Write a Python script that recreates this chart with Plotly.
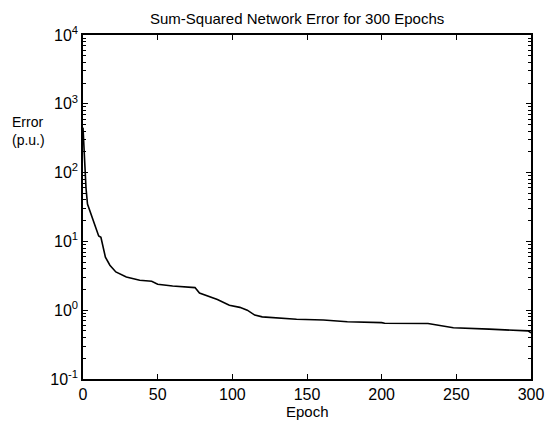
import plotly.graph_objects as go

# values (epoch, sum-squared error)
epochs = [0, 1, 2, 3, 5, 7, 9, 10.5, 12, 13, 15, 18, 22, 29, 38, 46, 48, 50,
          60, 75, 78, 84, 90, 98, 105, 110, 115, 120, 143, 161, 177, 200,
          202, 231, 240, 248, 272, 293, 298, 300]
errors = [450, 150, 60, 35, 26, 20, 14, 12, 11.5, 9, 5.9, 4.5, 3.6, 3.04,
          2.72, 2.63, 2.5, 2.38, 2.25, 2.13, 1.78, 1.6, 1.43, 1.18, 1.1, 1.0,
          0.85, 0.8, 0.74, 0.72, 0.68, 0.66, 0.645, 0.64, 0.6, 0.555, 0.53,
          0.51, 0.5, 0.47]
x_ticks = [0, 50, 100, 150, 200, 250, 300]
y_ticks = [0.1, 1, 10, 100, 1000, 10000]
y_labels = ["10<sup>-1</sup>", "10<sup>0</sup>", "10<sup>1</sup>",
            "10<sup>2</sup>", "10<sup>3</sup>", "10<sup>4</sup>"]
minor_ticks = [m * 10 ** e for e in range(-1, 4) for m in range(2, 10)]

FONT = "Liberation Sans, Arial, sans-serif"

fig = go.Figure()
fig.add_trace(go.Scatter(x=epochs, y=errors, mode="lines",
                         line=dict(color="black", width=1.6),
                         showlegend=False))

# figure fills the whole window (body margin removed in post_script)
W, H = 545, 421
L, R, T, B = 83, 14, 35, 42
pw, ph = W - L - R, H - T - B

fig.update_layout(
    width=W, height=H,
    margin=dict(l=L, r=R, t=T, b=B, autoexpand=False),
    paper_bgcolor="white", plot_bgcolor="white",
    font=dict(family=FONT, size=14, color="black"),
    annotations=[
        dict(text="Sum-Squared Network Error for 300 Epochs",
             xref="paper", yref="paper", x=(297 - L) / pw, y=1,
             yshift=17, showarrow=False, xanchor="center", yanchor="middle",
             font=dict(size=15)),
        dict(text="Error<br>(p.u.)", xref="paper", yref="paper",
             x=-(L - 10) / pw, y=1 - 96 / ph,
             showarrow=False, xanchor="left", yanchor="middle", align="left",
             font=dict(size=14)),
        dict(text="Epoch", xref="paper", yref="paper", x=0.5, y=0,
             yshift=-32, showarrow=False, xanchor="center",
             yanchor="middle", font=dict(size=15)),
    ],
)
fig.update_xaxes(
    range=[0, 300], tickvals=x_ticks, ticks="inside", ticklen=5,
    tickcolor="black", showline=True, linecolor="black", linewidth=1.5,
    mirror="ticks", showgrid=False, zeroline=False, automargin=False,
    tickfont=dict(size=16),
)
fig.update_yaxes(
    type="log", range=[-1, 4], tickvals=y_ticks, ticktext=y_labels,
    ticks="inside", ticklen=5, tickcolor="black", showline=True,
    linecolor="black", linewidth=1.5, mirror="ticks", showgrid=False,
    zeroline=False, automargin=False, tickfont=dict(size=16),
    minor=dict(tickvals=minor_ticks, ticks="inside", ticklen=3,
               tickcolor="black", showgrid=False),
)

fig.write_html(
    "out.html",
    config={"displayModeBar": False},
    post_script="document.body.style.margin='0';"
                "document.body.style.overflow='hidden';",
)
